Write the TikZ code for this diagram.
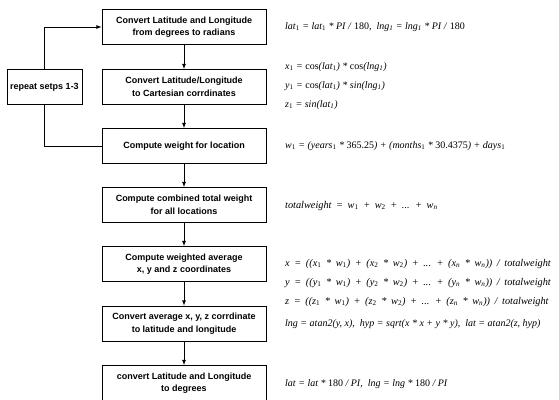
\documentclass[tikz,border=0pt]{standalone}
\usepackage{fontspec}
\setmainfont{Liberation Serif}
\newfontfamily\boxfont{Liberation Sans}
\newcommand\lo[1]{\textsubscript{#1}}
\newcommand\up[1]{\textup{#1}}
\newcommand\widesp{\spaceskip=4.6pt plus 1pt\relax}

\begin{document}
\begin{tikzpicture}[x=1pt,y=-1pt,
  stepbox/.style={draw, rectangle, line width=0.8pt, minimum width=164pt,
    minimum height=35pt, align=center,
    font=\boxfont\bfseries\fontsize{9}{12.5}\selectfont},
  formula/.style={anchor=west, inner sep=0pt, align=left,
    font=\itshape\fontsize{10}{19}\selectfont},
  wide/.style={font=\itshape\fontsize{10.3}{19}\selectfont\widesp}]

\useasboundingbox (0,0) rectangle (559,399);

\node[stepbox] (A) at (184,27)
{Convert Latitude and Longitude\\from degrees to radians};%

\node[stepbox] (B) at (184,87)
{Convert Latitude/Longitude\\to Cartesian corrdinates};%

\node[stepbox] (C) at (184,146)
{Compute weight for location};%

\node[stepbox] (D) at (184,205)
{Compute combined total weight\\for all locations};%

\node[stepbox] (E) at (184,264)
{Compute weighted average\\x, y and z coordinates};%

\node[stepbox] (F) at (184,323.5)
{Convert average x, y, z corrdinate\\to latitude and longitude};%

\node[stepbox] (G) at (184,383)
{convert Latitude and Longitude\\to degrees};%

\node[draw, rectangle, line width=0.8pt, minimum width=75pt, minimum height=35pt,
  inner sep=1pt, font=\boxfont\bfseries\fontsize{9}{12}\selectfont] (R) at (44.5,87)
{repeat setps 1-3};%


\node[formula] (fA) at (285,27)
{lat\lo{\up{1}} = lat\lo{\up{1}} * PI / \up{180}, \ lng\lo{1} = lng\lo{1} * PI / \up{180}};%

\node[formula] (fB) at (285,86)
{x\lo{\up{1}} = \up{cos}(lat\lo{\up{1}}) * \up{cos}(lng\lo{1})\\
 y\lo{\up{1}} = \up{cos}(lat\lo{\up{1}}) * sin(lng\lo{1})\\
 z\lo{\up{1}} = sin(lat\lo{1})};%

\node[formula] (fC) at (285,146)
{w\lo{\up{1}} = (years\lo{\up{1}} * \up{365.25}) + (months\lo{\up{1}} * \up{30.4375}) + days\lo{\up{1}}};%

\node[formula, wide] (fD) at (285,206)
{totalweight = w\lo{\up{1}} + w\lo{\up{2}} + ... + w\lo{n}};%

\node[formula, wide] (fE) at (285,283)
{x = ((x\lo{\up{1}} * w\lo{\up{1}}) + (x\lo{\up{2}} * w\lo{\up{2}}) + ... + (x\lo{n} * w\lo{n})) / totalweight\\
 y = ((y\lo{\up{1}} * w\lo{\up{1}}) + (y\lo{\up{2}} * w\lo{\up{2}}) + ... + (y\lo{n} * w\lo{n})) / totalweight\\
 z = ((z\lo{\up{1}} * w\lo{\up{1}}) + (z\lo{\up{2}} * w\lo{\up{2}}) + ... + (z\lo{n} * w\lo{n})) / totalweight};%

\node[formula] (fF) at (285,324)
{lng = atan2(y, x), \ hyp = sqrt(x * x + y * y), \ lat = atan2(z, hyp)};%

\node[formula] (fG) at (285,384)
{lat = lat * \up{180} / PI, \ lng = lng * \up{180} / PI};%

\draw[->,>=latex,line width=0.8pt] (A) -- (B);
\draw[->,>=latex,line width=0.8pt] (B) -- (C);
\draw[->,>=latex,line width=0.8pt] (C) -- (D);
\draw[->,>=latex,line width=0.8pt] (D) -- (E);
\draw[->,>=latex,line width=0.8pt] (E) -- (F);
\draw[->,>=latex,line width=0.8pt] (F) -- (G);
\draw[->,>=latex,line width=0.8pt] (R.north) |- (A.west);
\draw[line width=0.8pt] (R.south) |- (C.west);

\end{tikzpicture}
\end{document}
